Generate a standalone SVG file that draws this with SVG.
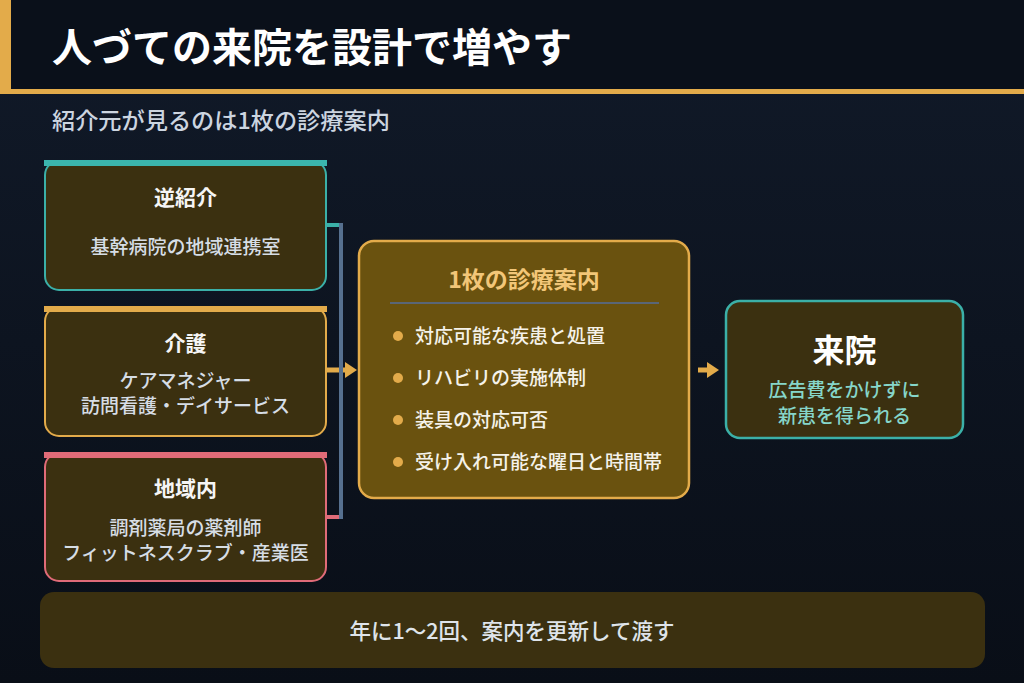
<svg xmlns="http://www.w3.org/2000/svg" width="1024" height="683" viewBox="0 0 1024 683">
  <defs>
    <linearGradient id="bg" x1="0" y1="0" x2="0" y2="1">
      <stop offset="0" stop-color="#111a29"/>
      <stop offset="1" stop-color="#090e17"/>
    </linearGradient>
    <marker id="arrow" viewBox="0 0 12 16" refX="0" refY="8" markerWidth="12" markerHeight="16" markerUnits="userSpaceOnUse" orient="auto">
      <path d="M0,0 L12,8 L0,16 z" fill="#e3ab4a"/>
    </marker>
    <style>
      .jp { font-family: "Noto Sans CJK JP", "Noto Sans", sans-serif; }
      .src { fill: #3b3010; stroke-width: 2; }
      .ttl { font-weight: 700; font-size: 21px; fill: #f5f5f5; text-anchor: middle; }
      .sub { font-size: 19px; font-weight: 500; fill: #d6dde5; text-anchor: middle; }
      .bul { font-size: 19px; font-weight: 500; fill: #f5f2ea; }
      .dot { fill: #e3ab4a; }
    </style>
  </defs>

  <rect x="0" y="0" width="1024" height="683" fill="url(#bg)"/>

  <g id="header">
    <rect x="0" y="0" width="1024" height="90" fill="#0a101a"/>
    <rect x="0" y="0" width="11" height="90" fill="#e3ab4a"/>
    <rect x="0" y="89" width="1024" height="5" fill="#e3ab4a"/>
    <text class="jp" x="52" y="62" font-size="40" font-weight="700" fill="#ffffff">人づての来院を設計で増やす</text>
  </g>
  <text id="subtitle" class="jp" x="52" y="129" font-size="23.2" font-weight="500" fill="#ccd5e0">紹介元が見るのは1枚の診療案内</text>

  <g id="connectors" fill="none">
    <path d="M326,225 H341" stroke="#3bb0a8" stroke-width="4"/>
    <path d="M326,517 H341" stroke="#e06b78" stroke-width="4"/>
    <path d="M326,370 H341" stroke="#e3ab4a" stroke-width="5"/>
    <path d="M341,223 V519" stroke="#56708f" stroke-width="4"/>
    <path d="M343,370 H345" stroke="#e3ab4a" stroke-width="5" marker-end="url(#arrow)"/>
    <path d="M698,370 H707" stroke="#e3ab4a" stroke-width="5" marker-end="url(#arrow)"/>
  </g>

  <g id="node-gyakushokai">
    <rect class="src" x="45" y="161" width="281" height="129" rx="14" stroke="#3bb0a8"/>
    <rect x="44" y="160" width="283" height="6" fill="#3bb5ad"/>
    <text class="jp ttl" x="185.5" y="205">逆紹介</text>
    <text class="jp sub" x="185.5" y="254">基幹病院の地域連携室</text>
  </g>

  <g id="node-kaigo">
    <rect class="src" x="45" y="307" width="281" height="129" rx="14" stroke="#e3ab4a"/>
    <rect x="44" y="306" width="283" height="6" fill="#e3ab4a"/>
    <text class="jp ttl" x="185.5" y="351">介護</text>
    <text class="jp sub" x="185.5" y="388">ケアマネジャー</text>
    <text class="jp sub" x="185.5" y="413">訪問看護・デイサービス</text>
  </g>

  <g id="node-chiiki">
    <rect class="src" x="45" y="453" width="281" height="128" rx="14" stroke="#e06b78"/>
    <rect x="44" y="452" width="283" height="6" fill="#e06b78"/>
    <text class="jp ttl" x="185.5" y="496">地域内</text>
    <text class="jp sub" x="185.5" y="535">調剤薬局の薬剤師</text>
    <text class="jp sub" x="185.5" y="560">フィットネスクラブ・産業医</text>
  </g>

  <g id="node-annai">
    <rect x="359" y="241" width="330" height="257" rx="15" fill="#6a520f" stroke="#e3ab4a" stroke-width="2.5"/>
    <text class="jp" x="524" y="288" font-size="23" font-weight="700" fill="#f2c678" text-anchor="middle">1枚の診療案内</text>
    <line x1="390" y1="303" x2="659" y2="303" stroke="#596677" stroke-width="2"/>
    <circle class="dot" cx="398" cy="336" r="5"/>
    <text class="jp bul" x="415" y="343">対応可能な疾患と処置</text>
    <circle class="dot" cx="398" cy="378" r="5"/>
    <text class="jp bul" x="415" y="385">リハビリの実施体制</text>
    <circle class="dot" cx="398" cy="420" r="5"/>
    <text class="jp bul" x="415" y="427">装具の対応可否</text>
    <circle class="dot" cx="398" cy="462" r="5"/>
    <text class="jp bul" x="415" y="469">受け入れ可能な曜日と時間帯</text>
  </g>

  <g id="node-raiin">
    <rect x="726" y="301" width="237" height="137" rx="14" fill="#3b3010" stroke="#3bb0a8" stroke-width="2.5"/>
    <text class="jp" x="844.5" y="362" font-size="32" font-weight="700" fill="#ffffff" text-anchor="middle">来院</text>
    <text class="jp" x="844.5" y="397" font-size="19" font-weight="500" fill="#86d6ca" text-anchor="middle">広告費をかけずに</text>
    <text class="jp" x="844.5" y="423" font-size="19" font-weight="500" fill="#86d6ca" text-anchor="middle">新患を得られる</text>
  </g>

  <g id="node-footer">
    <rect x="40" y="592" width="945" height="76" rx="14" fill="#3b3010"/>
    <text class="jp" x="512" y="639" font-size="21.5" font-weight="500" fill="#dfe4ea" text-anchor="middle">年に1〜2回、案内を更新して渡す</text>
  </g>
</svg>
